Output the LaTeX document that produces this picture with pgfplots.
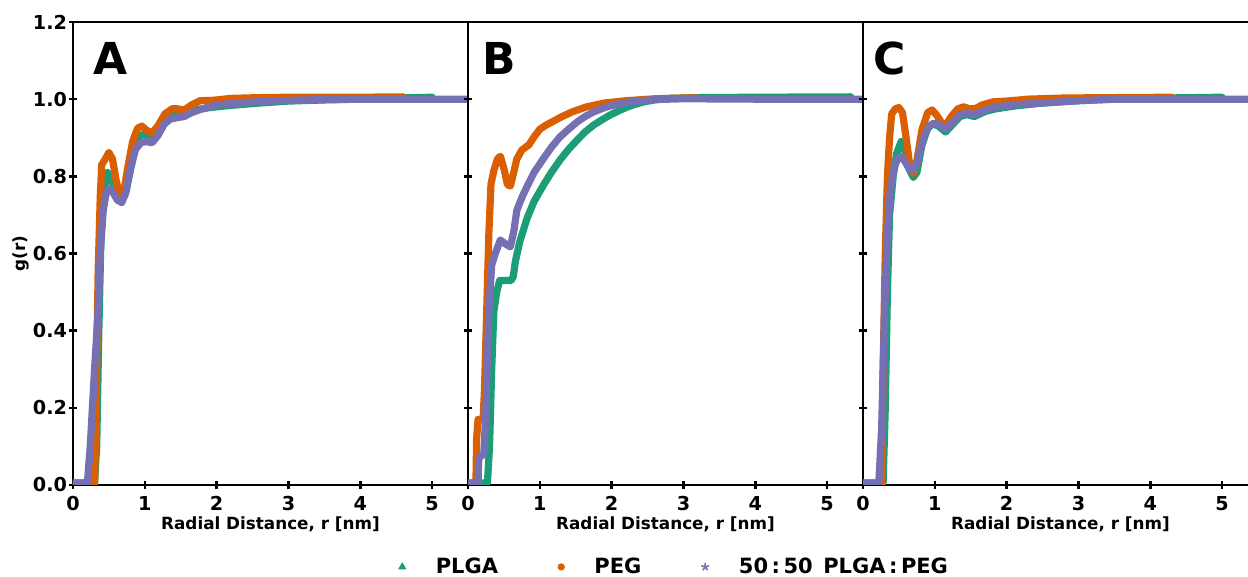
\documentclass[border=0pt]{standalone}
\usepackage{pgfplots}
\pgfplotsset{compat=1.18}
\usepackage{fontspec}
\setmainfont{DejaVu Sans}
\definecolor{plga}{HTML}{1B9E77}
\definecolor{peg}{HTML}{D95F02}
\definecolor{mix}{HTML}{7570B3}
\pgfplotsset{
  gpanel/.style={
    scale only axis, width=197.5pt, height=231.5pt,
    xmin=0, xmax=5.5, ymin=0, ymax=1.2,
    xtick={0,1,2,3,4,5}, ytick={0,0.2,0.4,0.6,0.8,1.0,1.2},
    xtick pos=bottom, ytick pos=both, tick align=center,
    major tick length=4pt,
    axis line style={line width=1.3pt},
    every tick/.style={black, line width=1.3pt},
    tick label style={font=\bfseries\fontsize{9.6}{11}\selectfont},
    yticklabel style={xshift=2.5pt},
    /pgf/number format/assume math mode=true,
    yticklabel style={/pgf/number format/.cd, fixed, fixed zerofill, precision=1},
    xlabel={Radial Distance, r [nm]},
    xlabel style={font=\bfseries\fontsize{8.4}{10}\selectfont, yshift=4pt},
    ylabel style={font=\bfseries\fontsize{8.4}{10}\selectfont, at={(axis description cs:-0.109,0.5)}, anchor=south, inner sep=0pt},
  },
  gline/.style={line width=3.6pt, line join=round, line cap=round, forget plot},
}
\begin{document}
\begin{tikzpicture}
% ---------------- A ----------------
\begin{axis}[gpanel, at={(0pt,0pt)}, anchor=south west, ylabel={g(r)}]
\addplot[gline, plga] coordinates {(0,0.005) (0.30,0.005) (0.33,0.1) (0.36,0.4) (0.39,0.65) (0.43,0.76) (0.48,0.81) (0.52,0.80) (0.58,0.77) (0.66,0.74) (0.72,0.75) (0.78,0.80) (0.85,0.86) (0.93,0.905) (1.0,0.91) (1.1,0.905) (1.2,0.925) (1.3,0.95) (1.4,0.958) (1.55,0.96) (1.7,0.972) (1.9,0.978) (2.2,0.984) (2.6,0.99) (3.0,0.995) (3.5,0.998) (4.0,1.0) (4.5,1.003) (5.0,1.005)};
\addplot[gline, peg] coordinates {(0,0.0) (0.30,0.0) (0.32,0.2) (0.35,0.55) (0.38,0.75) (0.40,0.83) (0.45,0.845) (0.50,0.862) (0.55,0.845) (0.60,0.79) (0.66,0.745) (0.70,0.75) (0.76,0.82) (0.83,0.89) (0.90,0.925) (0.96,0.93) (1.02,0.92) (1.10,0.912) (1.18,0.93) (1.28,0.962) (1.38,0.975) (1.45,0.975) (1.55,0.972) (1.65,0.985) (1.77,0.996) (1.95,0.997) (2.2,1.002) (2.6,1.004) (3.0,1.005) (3.5,1.005) (4.0,1.005) (4.6,1.006)};
\addplot[gline, mix] coordinates {(0,0.005) (0.20,0.005) (0.24,0.1) (0.30,0.3) (0.35,0.45) (0.38,0.6) (0.42,0.71) (0.46,0.755) (0.50,0.77) (0.55,0.76) (0.62,0.738) (0.68,0.732) (0.74,0.76) (0.80,0.82) (0.87,0.87) (0.95,0.888) (1.02,0.89) (1.10,0.887) (1.18,0.905) (1.27,0.935) (1.35,0.948) (1.45,0.952) (1.55,0.955) (1.65,0.965) (1.8,0.975) (2.0,0.985) (2.3,0.99) (2.7,0.995) (3.2,0.998) (4.0,1.0) (5.5,1.0)};
\node[font=\bfseries\fontsize{22}{24}\selectfont] at (rel axis cs:0.096,0.922) {A};
\end{axis}
% ---------------- B ----------------
\begin{axis}[gpanel, at={(197.5pt,0pt)}, anchor=south west, yticklabels={},
  legend columns=3,
  legend style={at={(0.52,-0.177)}, anchor=center, draw=none, fill=none, inner sep=0pt,
    font=\bfseries\fontsize{10.5}{12}\selectfont,
    nodes={inner sep=0pt},
    /tikz/every odd column/.append style={column sep=15pt},
    /tikz/every even column/.append style={column sep=30pt}},
  legend image code/.code={\draw[#1] plot coordinates {(0pt,0pt)};}]
\addplot[gline, plga] coordinates {(0,0.005) (0.27,0.005) (0.30,0.1) (0.33,0.3) (0.36,0.45) (0.40,0.5) (0.44,0.53) (0.60,0.53) (0.63,0.54) (0.66,0.58) (0.72,0.63) (0.82,0.69) (0.92,0.735) (1.05,0.777) (1.16,0.81) (1.28,0.842) (1.4,0.87) (1.52,0.894) (1.63,0.915) (1.75,0.933) (1.87,0.947) (1.98,0.959) (2.1,0.97) (2.21,0.979) (2.33,0.987) (2.45,0.993) (2.6,0.998) (2.8,1.002) (3.2,1.004) (4,1.005) (5.33,1.006)};
\addplot[gline, peg] coordinates {(0,0.0) (0.11,0.0) (0.12,0.12) (0.14,0.17) (0.21,0.17) (0.23,0.25) (0.26,0.45) (0.29,0.65) (0.32,0.78) (0.36,0.815) (0.41,0.845) (0.45,0.852) (0.50,0.82) (0.55,0.778) (0.59,0.775) (0.63,0.805) (0.68,0.845) (0.75,0.868) (0.85,0.882) (0.93,0.905) (1.0,0.922) (1.08,0.932) (1.18,0.942) (1.3,0.954) (1.45,0.967) (1.65,0.98) (1.9,0.99) (2.2,0.996) (2.6,1.001) (3.0,1.003) (3.2,1.003)};
\addplot[gline, mix] coordinates {(0,0.005) (0.14,0.005) (0.15,0.07) (0.22,0.08) (0.25,0.2) (0.29,0.45) (0.33,0.57) (0.38,0.60) (0.45,0.635) (0.52,0.625) (0.59,0.617) (0.64,0.66) (0.68,0.712) (0.75,0.745) (0.82,0.773) (0.92,0.81) (1.05,0.846) (1.16,0.875) (1.28,0.902) (1.4,0.922) (1.52,0.941) (1.63,0.955) (1.75,0.967) (1.9,0.978) (2.05,0.986) (2.3,0.994) (2.6,0.999) (3.0,1.001) (4.0,1.0) (5.5,1.0)};
\node[font=\bfseries\fontsize{22}{24}\selectfont] at (rel axis cs:0.08,0.922) {B};
\addlegendimage{only marks, mark=triangle*, mark size=2pt, color=plga, line width=0.4pt}
\addlegendentry{PLGA}
\addlegendimage{only marks, mark=*, mark size=1.6pt, color=peg, line width=0.4pt}
\addlegendentry{PEG}
\addlegendimage{only marks, mark=star, mark size=2pt, color=mix, line width=0.8pt}
\addlegendentry{50\,:\,50\enspace PLGA\,:\,PEG}
\end{axis}
% ---------------- C ----------------
\begin{axis}[gpanel, at={(395pt,0pt)}, anchor=south west, yticklabels={}]
\addplot[gline, plga] coordinates {(0,0.005) (0.28,0.005) (0.31,0.2) (0.34,0.5) (0.37,0.7) (0.42,0.80) (0.47,0.86) (0.53,0.89) (0.58,0.87) (0.64,0.82) (0.70,0.797) (0.75,0.81) (0.82,0.88) (0.90,0.925) (0.98,0.937) (1.05,0.93) (1.15,0.915) (1.25,0.935) (1.35,0.955) (1.45,0.96) (1.55,0.955) (1.7,0.968) (1.85,0.975) (2.1,0.982) (2.5,0.99) (3.0,0.996) (3.5,1.0) (4.2,1.003) (5.0,1.005)};
\addplot[gline, peg] coordinates {(0,0.0) (0.26,0.0) (0.28,0.3) (0.31,0.6) (0.34,0.8) (0.37,0.9) (0.40,0.962) (0.45,0.975) (0.50,0.978) (0.55,0.965) (0.60,0.9) (0.65,0.83) (0.70,0.808) (0.75,0.84) (0.82,0.92) (0.90,0.965) (0.96,0.972) (1.02,0.96) (1.10,0.937) (1.16,0.935) (1.23,0.955) (1.32,0.975) (1.40,0.98) (1.48,0.975) (1.56,0.975) (1.66,0.985) (1.81,0.993) (2.0,0.995) (2.3,1.0) (2.8,1.003) (3.5,1.004) (4.3,1.005)};
\addplot[gline, mix] coordinates {(0,0.005) (0.22,0.005) (0.26,0.15) (0.30,0.45) (0.34,0.65) (0.38,0.76) (0.43,0.82) (0.48,0.845) (0.52,0.852) (0.58,0.84) (0.64,0.82) (0.70,0.815) (0.76,0.84) (0.84,0.9) (0.92,0.93) (0.98,0.937) (1.05,0.935) (1.15,0.924) (1.25,0.94) (1.35,0.96) (1.45,0.963) (1.55,0.96) (1.7,0.972) (1.85,0.98) (2.1,0.985) (2.5,0.99) (3.0,0.996) (3.5,1.0) (5.5,1.0)};
\node[font=\bfseries\fontsize{22}{24}\selectfont] at (rel axis cs:0.068,0.922) {C};
\end{axis}
\pgfresetboundingbox
\useasboundingbox (-36.5pt,-46pt) rectangle (587.5pt,242.5pt);
\end{tikzpicture}
\end{document}
